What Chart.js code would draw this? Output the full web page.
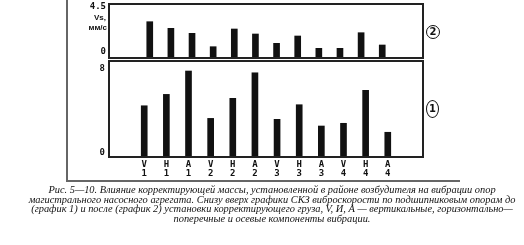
<!DOCTYPE html>
<html lang="ru">
<head>
  <meta charset="UTF-8">
  <title>Рис. 5-10</title>
  <script src="https://cdn.jsdelivr.net/npm/chart.js"></script>
  <style>
    body { margin: 0; width: 524px; height: 245px; background: #fff; position: relative; overflow: hidden; }
    canvas { position: absolute; left: 0; }
    #topChart { top: 0; }
    #bottomChart { top: 58px; }
    .frame { position: absolute; left: 66px; top: -5px; width: 392px; height: 185px;
             border-left: 2px solid #666; border-bottom: 2px solid #666; }
    .mark { position: absolute; border: 1.5px solid #111; border-radius: 50%; box-sizing: border-box;
            font: bold 10px "DejaVu Sans", sans-serif; color: #111; text-align: center; }
    #mark2 { left: 426px; top: 25px; width: 14px; height: 14px; line-height: 11px; }
    #mark1 { left: 426px; top: 100px; width: 13px; height: 18px; line-height: 15px; }
    .caption { position: absolute; left: 12px; top: 185px; width: 520px; text-align: center;
               font: italic 10.4px "Liberation Serif", serif; line-height: 9.5px; color: #111; }
  </style>
</head>
<body>
  <div class="frame"></div>
  <canvas id="topChart" width="524" height="62"></canvas>
  <canvas id="bottomChart" width="524" height="124"></canvas>
  <div class="mark" id="mark2">2</div>
  <div class="mark" id="mark1">1</div>
  <div class="caption">
    Рис. 5—10. Влияние корректирующей массы, установленной в районе возбудителя на вибрации опор<br>
    магистрального насосного агрегата. Снизу вверх графики СКЗ виброскорости по подшипниковым опорам до<br>
    (график 1) и после (график 2) установки корректирующего груза, V, И, А — вертикальные, горизонтально—<br>
    поперечные и осевые компоненты вибрации.
  </div>

  <script>
    // components and support numbers (x labels)
    const components = ['V', 'H', 'A', 'V', 'H', 'A', 'V', 'H', 'A', 'V', 'H', 'A'];
    const supports   = ['1', '1', '1', '2', '2', '2', '3', '3', '3', '4', '4', '4'];

    // graph 2 (after correction), top panel
    const afterValues  = [3.63, 2.97, 2.47, 1.13, 2.9, 2.4, 1.47, 2.2, 0.97, 0.97, 2.53, 1.3];
    // graph 1 (before correction), bottom panel
    const beforeValues = [4.91, 6.0, 8.24, 3.7, 5.62, 8.07, 3.61, 5.01, 2.97, 3.23, 6.39, 2.37];

    const topTicks = [0, 4.5];
    const bottomTicks = [0, 8];
    const unitLines = ['Vs,', 'мм/с'];

    const ink = '#111';

    const boxPlugin = {
      id: 'box',
      afterDraw(chart) {
        const a = chart.chartArea;
        const ctx = chart.ctx;
        ctx.save();
        ctx.strokeStyle = '#222';
        ctx.lineWidth = 2;
        ctx.strokeRect(a.left, a.top, a.right - a.left, a.bottom - a.top);
        ctx.restore();
      }
    };

    const unitPlugin = {
      id: 'units',
      afterDraw(chart) {
        const ctx = chart.ctx;
        ctx.save();
        ctx.fillStyle = ink;
        ctx.font = 'bold 8px "Liberation Sans", Arial, sans-serif';
        ctx.textAlign = 'right';
        ctx.textBaseline = 'middle';
        ctx.fillText(unitLines[0], 106, 18);
        ctx.fillText(unitLines[1], 107, 28);
        ctx.restore();
      }
    };

    function points(values) {
      return values.map((v, i) => ({ x: i + 1, y: v }));
    }

    function noPad(s) {
      s.paddingTop = 0; s.paddingBottom = 0; s.paddingLeft = 0; s.paddingRight = 0;
    }

    function yAxis(max, ticks, offset, pad) {
      return {
        min: 0,
        max: max,
        grid: { display: false, drawTicks: false },
        border: { display: false },
        afterBuildTicks: s => { s.ticks = ticks.map(v => ({ value: v })); },
        afterFit: s => { s.width = 109; noPad(s); },
        ticks: {
          color: ink,
          padding: pad,
          labelOffset: offset,
          font: { family: '"DejaVu Sans Mono", monospace', size: 9, weight: 'bold' },
          callback: v => String(v)
        }
      };
    }

    new Chart(document.getElementById('topChart'), {
      type: 'bar',
      data: { datasets: [{ data: points(afterValues), backgroundColor: ink, barThickness: 6 }] },
      plugins: [boxPlugin, unitPlugin],
      options: {
        responsive: false,
        animation: false,
        layout: { padding: { top: 4, bottom: 4, left: 0, right: 101 } },
        plugins: { legend: { display: false }, tooltip: { enabled: false } },
        scales: {
          x: { type: 'linear', min: 0, max: 13, display: false },
          y: yAxis(5.4, topTicks, -6, 3)
        }
      }
    });

    new Chart(document.getElementById('bottomChart'), {
      type: 'bar',
      data: { datasets: [{ data: points(beforeValues), backgroundColor: ink, barThickness: 6 }] },
      plugins: [boxPlugin],
      options: {
        responsive: false,
        animation: false,
        layout: { padding: { top: 3, bottom: 0, left: 0, right: 101 } },
        plugins: { legend: { display: false }, tooltip: { enabled: false } },
        scales: {
          x: {
            type: 'linear', min: 0, max: 13,
            grid: { display: false, drawTicks: false },
            border: { display: false },
            afterBuildTicks: s => { s.ticks = components.map((c, i) => ({ value: i + 1 })); },
            afterFit: s => { s.height = 25; noPad(s); },
            ticks: {
              color: ink,
              padding: 3,
              maxRotation: 0,
              autoSkip: false,
              font: { family: '"DejaVu Sans Mono", monospace', size: 9, weight: 'bold', lineHeight: 1 },
              callback: v => [components[v - 1], supports[v - 1]]
            }
          },
          y: yAxis(9.2, bottomTicks, -4.5, 4)
        }
      }
    });
  </script>
</body>
</html>
